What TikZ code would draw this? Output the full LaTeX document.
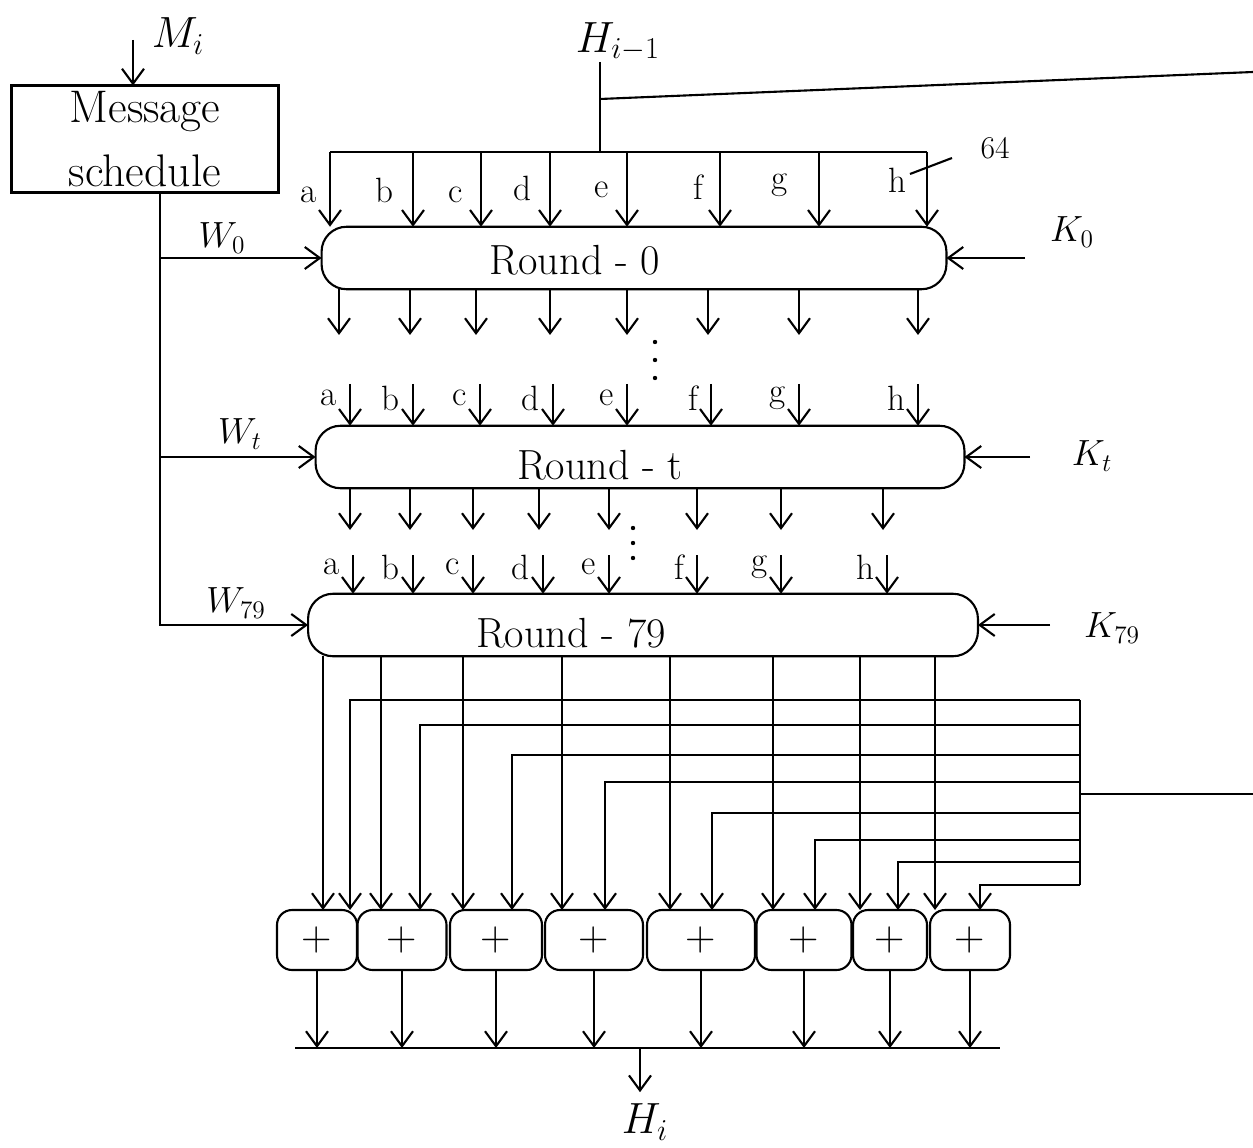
\documentclass[tikz,border=0pt]{standalone}
\usetikzlibrary{arrows.meta}
\begin{document}
\begin{tikzpicture}[x=0.02cm, y=-0.02cm, line width=1.2pt,
    >={Straight Barb[length=3mm,width=4.4mm]},
    rnd/.style={draw, rounded corners=0.5cm, inner sep=0pt, outer sep=0pt, minimum height=1.25cm},
    adder/.style={draw, rounded corners=0.3cm, inner sep=0pt, outer sep=0pt, minimum height=1.2cm, font=\fontsize{24}{28}\selectfont},
    lbl/.style={font=\fontsize{20}{24}\selectfont, inner sep=0pt},
    big/.style={font=\fontsize{24}{28}\selectfont, inner sep=0pt},
    dot/.style={circle, fill, inner sep=0pt, minimum size=2.5pt}]
  \useasboundingbox (0,0) rectangle (1253,1148);

  \node[draw, minimum width=5.34cm, minimum height=2.14cm, align=center, inner sep=0pt, outer sep=0pt,
        font=\fontsize{26}{36}\selectfont] (ms) at (145,139) {Message\\schedule};
  \node[big] (mi) at (178,36) {$M_i$};
  \draw[->] (133,40) -- (133,0 |- ms.north);

  \node[rnd, minimum width=12.5cm] (r0) at (634,258) {};
  \node[big] (t0) at (575,260) {Round - 0};
  \node[rnd, minimum width=12.98cm] (rt) at (640,457) {};
  \node[big] (tt) at (600,465) {Round - t};
  \node[rnd, minimum width=13.4cm] (r79) at (643,625) {};
  \node[big] (t79) at (571,633) {Round - 79};

  \draw[->] (160,0 |- ms.south) |- (r79.west);
  \draw[->] (160,0 |- r0.west) -- (r0.west);
  \draw[->] (160,0 |- rt.west) -- (rt.west);
  \node[lbl] (w0) at (222,238) {$W_0$};
  \node[lbl] (wt) at (240,434) {$W_t$};
  \node[lbl] (w79) at (236,603) {$W_{79}$};

  \node[big] (hprev) at (618,42) {$H_{i-1}$};
  \draw (600,62) -- (600,152);
  \draw (330,152) -- (927,152);
  \draw (600,99) -- (1253,72);
  \foreach \x/\l/\lx/\ly in {330/a/309/195, 413/b/384/190, 481/c/456/195, 550/d/522/188,
                            627/e/602/190, 720/f/698/187, 819/g/780/185, 927/h/897/180} {
    \draw[->] (\x,152) -- (\x,0 |- r0.north);
    \node[lbl] at (\lx,\ly) {\l};
  }
  \draw (910,174) -- (952,158);
  \node[lbl, font=\fontsize{18}{20}\selectfont] (n64) at (995,148) {64};

  \node[lbl] (k0) at (1072,232) {$K_0$};
  \draw[->] (1025,0 |- r0.east) -- (r0.east);
  \node[lbl] (kt) at (1092,456) {$K_t$};
  \draw[->] (1030,0 |- rt.east) -- (rt.east);
  \node[lbl] (k79) at (1112,628) {$K_{79}$};
  \draw[->] (1050,0 |- r79.east) -- (r79.east);

  \foreach \x in {339,410,476,550,627,708,799,918}
    \draw[->] (\x,0 |- r0.south) -- (\x,335);
  \foreach \y in {342,360,378}
    \node[dot] at (655,\y) {};
  \foreach \x/\l in {350/a, 413/b, 480/c, 553/d, 627/e, 711/f, 799/g, 918/h} {
    \draw[->] (\x,384) -- (\x,0 |- rt.north);
    \node[lbl, anchor=east] at (\x-12,398) {\l};
  }

  \foreach \x in {350,410,473,539,609,697,781,883}
    \draw[->] (\x,0 |- rt.south) -- (\x,530);
  \foreach \y in {528,543,558}
    \node[dot] at (633,\y) {};
  \foreach \x/\l in {353/a, 413/b, 473/c, 543/d, 609/e, 697/f, 781/g, 887/h} {
    \draw[->] (\x,555) -- (\x,0 |- r79.north);
    \node[lbl, anchor=east] at (\x-12,567) {\l};
  }

  \foreach \n/\cx/\w in {1/317/80, 2/402/89, 3/496/92, 4/594/98, 5/701/108, 6/804/95, 7/890/74, 8/970/80}
    \node[adder, minimum width=\w*0.02cm] (s\n) at (\cx,940) {+};

  \foreach \n/\x in {1/323, 2/381, 3/463, 4/562, 5/670, 6/773, 7/860, 8/935}
    \draw[->] (\x,0 |- r79.south) -- (\x,0 |- s\n.north);

  \draw (1080,700) -- (1080,885);
  \draw (1080,794) -- (1253,794);
  \foreach \n/\y/\x in {1/700/350, 2/725/420, 3/755/512, 4/782/605, 5/813/712, 6/840/815, 7/862/898, 8/885/980}
    \draw[->] (1080,\y) -| (\x,0 |- s\n.north);

  \coordinate (ol) at (295,1048);
  \coordinate (or) at (1000,1048);
  \draw (ol) -- (or);
  \foreach \n in {1,...,8}
    \draw[->] (s\n.south) -- (s\n.south |- ol);
  \node[big, inner sep=6pt] (hi) at (645,1122) {$H_i$};
  \draw[->] (640,0 |- ol) -- (640,0 |- hi.north);
\end{tikzpicture}
\end{document}
